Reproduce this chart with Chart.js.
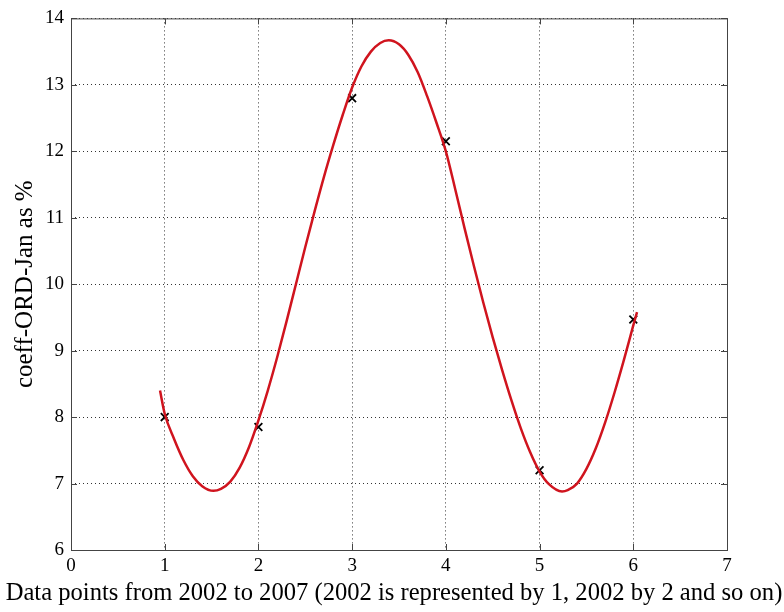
<!DOCTYPE html>
<html>
<head>
<meta charset="utf-8">
<script src="https://cdn.jsdelivr.net/npm/chart.js@4.4.1/dist/chart.umd.min.js"></script>
<style>
  html, body { margin: 0; padding: 0; background: #fff; }
  #wrap { width: 784px; height: 612px; }
</style>
</head>
<body>
<div id="wrap"><canvas id="coeffChart" width="784" height="612"></canvas></div>
<script>
// fitted curve
const fitX = [0.95, 1.0, 1.1, 1.2, 1.3, 1.4, 1.52, 1.6, 1.7, 1.8, 1.9, 2.0, 2.1, 2.2, 2.3, 2.4,
  2.5, 2.6, 2.7, 2.8, 2.9, 3.0, 3.1, 3.2, 3.3, 3.39, 3.5, 3.6, 3.7, 3.8, 3.9, 4.0, 4.1, 4.2,
  4.3, 4.4, 4.5, 4.6, 4.7, 4.8, 4.9, 5.0, 5.1, 5.24, 5.3, 5.4, 5.5, 5.6, 5.7, 5.8, 5.9, 6.0, 6.04];
const fitY = [8.40, 8.05, 7.67, 7.35, 7.11, 6.96, 6.89, 6.92, 7.03, 7.24, 7.55, 7.95, 8.40, 8.90, 9.44, 10.00,
  10.56, 11.10, 11.62, 12.10, 12.55, 12.96, 13.28, 13.50, 13.63, 13.67, 13.61, 13.45, 13.19, 12.83, 12.43, 12.00, 11.43, 10.84,
  10.27, 9.72, 9.20, 8.71, 8.25, 7.83, 7.47, 7.18, 6.99, 6.88, 6.90, 7.00, 7.22, 7.53, 7.92, 8.37, 8.86, 9.38, 9.58];

// measured points (1 = 2002 ... 6 = 2007)
const yearIdx = [1, 2, 3, 4, 5, 6];
const coeff = [8.0, 7.85, 12.8, 12.15, 7.2, 9.47];

const xTicks = [0, 1, 2, 3, 4, 5, 6, 7];
const yTicks = [6, 7, 8, 9, 10, 11, 12, 13, 14];

const xTitle = "Data points from 2002 to 2007 (2002 is represented by 1, 2002 by 2 and so on)";

const serif = "'Liberation Serif', 'Times New Roman', serif";

// matlab style box with inward ticks, plus the wide x label
const boxTicks = {
  id: "boxTicks",
  afterDraw(chart) {
    const { ctx, chartArea: a, scales } = chart;
    ctx.save();
    ctx.strokeStyle = "#444";
    ctx.lineWidth = 1;
    ctx.strokeRect(a.left + 0.5, a.top + 0.5, a.right - a.left, a.bottom - a.top);
    ctx.beginPath();
    xTicks.forEach(v => {
      const px = Math.round(scales.x.getPixelForValue(v)) + 0.5;
      ctx.moveTo(px, a.bottom); ctx.lineTo(px, a.bottom - 6);
      ctx.moveTo(px, a.top); ctx.lineTo(px, a.top + 6);
    });
    yTicks.forEach(v => {
      const py = Math.round(scales.y.getPixelForValue(v)) + 0.5;
      ctx.moveTo(a.left, py); ctx.lineTo(a.left + 6, py);
      ctx.moveTo(a.right, py); ctx.lineTo(a.right - 6, py);
    });
    ctx.stroke();

    // label is wider than the axis, so chart.js would squeeze it
    ctx.fillStyle = "#000";
    ctx.font = "24.6px " + serif;
    ctx.textAlign = "center";
    ctx.textBaseline = "middle";
    ctx.fillText(xTitle, 394, 594);
    ctx.restore();
  }
};

const grid = {
  color: "#333",
  lineWidth: 1,
  drawTicks: false
};

new Chart(document.getElementById("coeffChart"), {
  type: "scatter",
  data: {
    datasets: [
      {
        label: "fit",
        data: fitX.map((x, i) => ({ x, y: fitY[i] })),
        showLine: true,
        cubicInterpolationMode: "monotone",
        borderColor: "#d0141e",
        borderWidth: 2.5,
        pointRadius: 0
      },
      {
        label: "data",
        data: yearIdx.map((x, i) => ({ x, y: coeff[i] })),
        pointStyle: "crossRot",
        pointRadius: 5.5,
        borderColor: "#000",
        borderWidth: 1.8
      }
    ]
  },
  options: {
    responsive: false,
    animation: false,
    layout: { padding: { top: 17, right: 57, left: 0, bottom: 0 } },
    plugins: {
      legend: { display: false },
      tooltip: { enabled: false }
    },
    scales: {
      x: {
        type: "linear",
        min: 0, max: 7,
        afterFit: s => { s.height = 62; },
        afterBuildTicks: s => { s.ticks = xTicks.map(value => ({ value })); },
        ticks: { color: "#000", padding: 5, font: { family: serif, size: 19 } },
        grid,
        border: { display: false, dash: [1, 3] },
        title: { display: false }
      },
      y: {
        type: "linear",
        min: 6, max: 14,
        afterFit: s => { s.width = 71; },
        afterBuildTicks: s => { s.ticks = yTicks.map(value => ({ value })); },
        ticks: { color: "#000", padding: 7, font: { family: serif, size: 19 } },
        grid,
        border: { display: false, dash: [1, 3] },
        title: {
          display: true,
          text: "coeff-ORD-Jan as %",
          color: "#000",
          font: { family: serif, size: 25 },
          padding: { top: 10, bottom: 0 }
        }
      }
    }
  },
  plugins: [boxTicks]
});
</script>
</body>
</html>
